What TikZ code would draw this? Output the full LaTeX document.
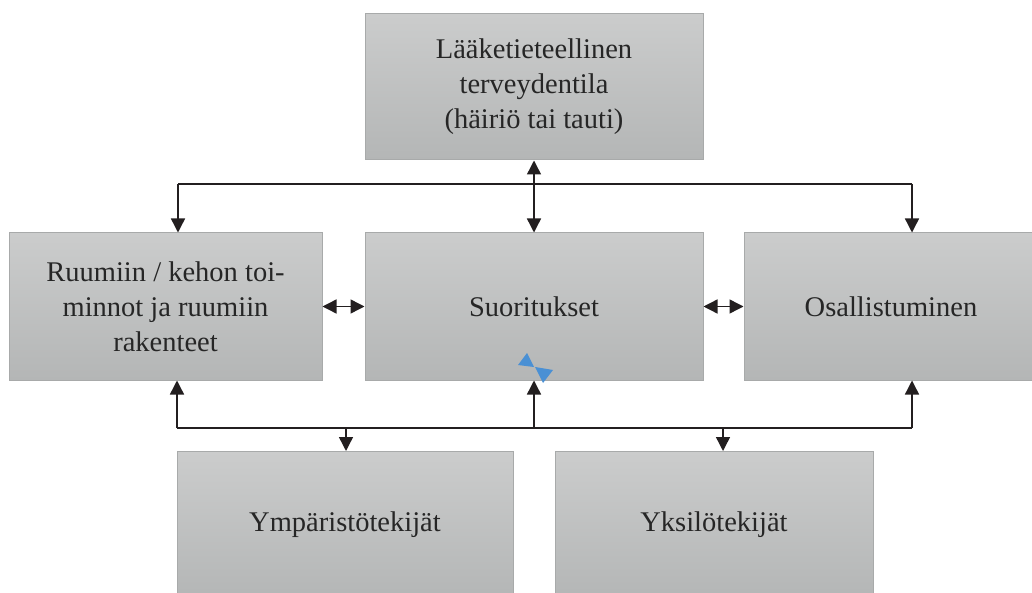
\documentclass[tikz,border=0pt]{standalone}
\usepackage{fontspec}
\setmainfont{Liberation Serif}
\usetikzlibrary{arrows.meta}
\definecolor{boxtop}{RGB}{203,204,204}
\definecolor{boxbot}{RGB}{180,182,182}
\definecolor{boxline}{RGB}{168,170,170}
\definecolor{arrcol}{RGB}{35,31,32}
\definecolor{marker}{RGB}{74,144,212}
\tikzset{
  box/.style={rectangle, draw=boxline, line width=1pt, top color=boxtop, bottom color=boxbot,
    align=center, text=black!85, font=\fontsize{28.5}{35}\selectfont, inner sep=0pt},
  conn/.style={draw=arrcol, line width=1.4pt},
  arr/.style={conn, -{Triangle[length=14pt,width=14pt]}},
  darr/.style={conn, {Triangle[length=14pt,width=14pt]}-{Triangle[length=14pt,width=14pt]}}
}
\begin{document}
\begin{tikzpicture}[x=1pt,y=-1pt]
\useasboundingbox (0,0) rectangle (1032,593);
\node[box, minimum width=338pt, minimum height=146pt] (top) at (534,87) {Lääketieteellinen\\terveydentila\\(häiriö tai tauti)};
\node[box, minimum width=313pt, minimum height=147pt] (left) at (165.5,306.5) {Ruumiin / kehon toi-\\minnot ja ruumiin\\rakenteet};
\node[box, minimum width=338pt, minimum height=147pt] (center) at (534,306.5) {Suoritukset};
\node[box, minimum width=294pt, minimum height=147pt] (right) at (891,306.5) {Osallistuminen};
\node[box, minimum width=336pt, minimum height=147pt] (env) at (345,525) {Ympäristötekijät};
\node[box, minimum width=318pt, minimum height=147pt] (pers) at (714,525) {Yksilötekijät};
% top connectors
\coordinate (tl) at (178,184);
\coordinate (tr) at (912,184);
\draw[conn] (tl) -- (tr);
\draw[darr] (top.south) -- (center.north);
\draw[arr] (tl) -- (tl |- left.north);
\draw[arr] (tr) -- (tr |- right.north);
% side connectors
\draw[darr] (left.east) -- (center.west);
\draw[darr] (center.east) -- (right.west);
% bottom connectors
\coordinate (bl) at (177,428);
\coordinate (br) at (912,428);
\coordinate (bd1) at (346,428);
\coordinate (bd2) at (723,428);
\draw[conn] (bl) -- (br);
\draw[arr] (bl) -- (bl |- left.south);
\draw[arr] (br) -- (br |- right.south);
\draw[arr] (center.south |- bl) -- (center.south);
\draw[arr] (bd1) -- (bd1 |- env.north);
\draw[arr] (bd2) -- (bd2 |- pers.north);
% selection marker
\fill[marker] (518,365) -- (527,353) -- (534,367) -- cycle;
\fill[marker] (535,367) -- (553,370) -- (543,383) -- cycle;
\end{tikzpicture}
\end{document}
